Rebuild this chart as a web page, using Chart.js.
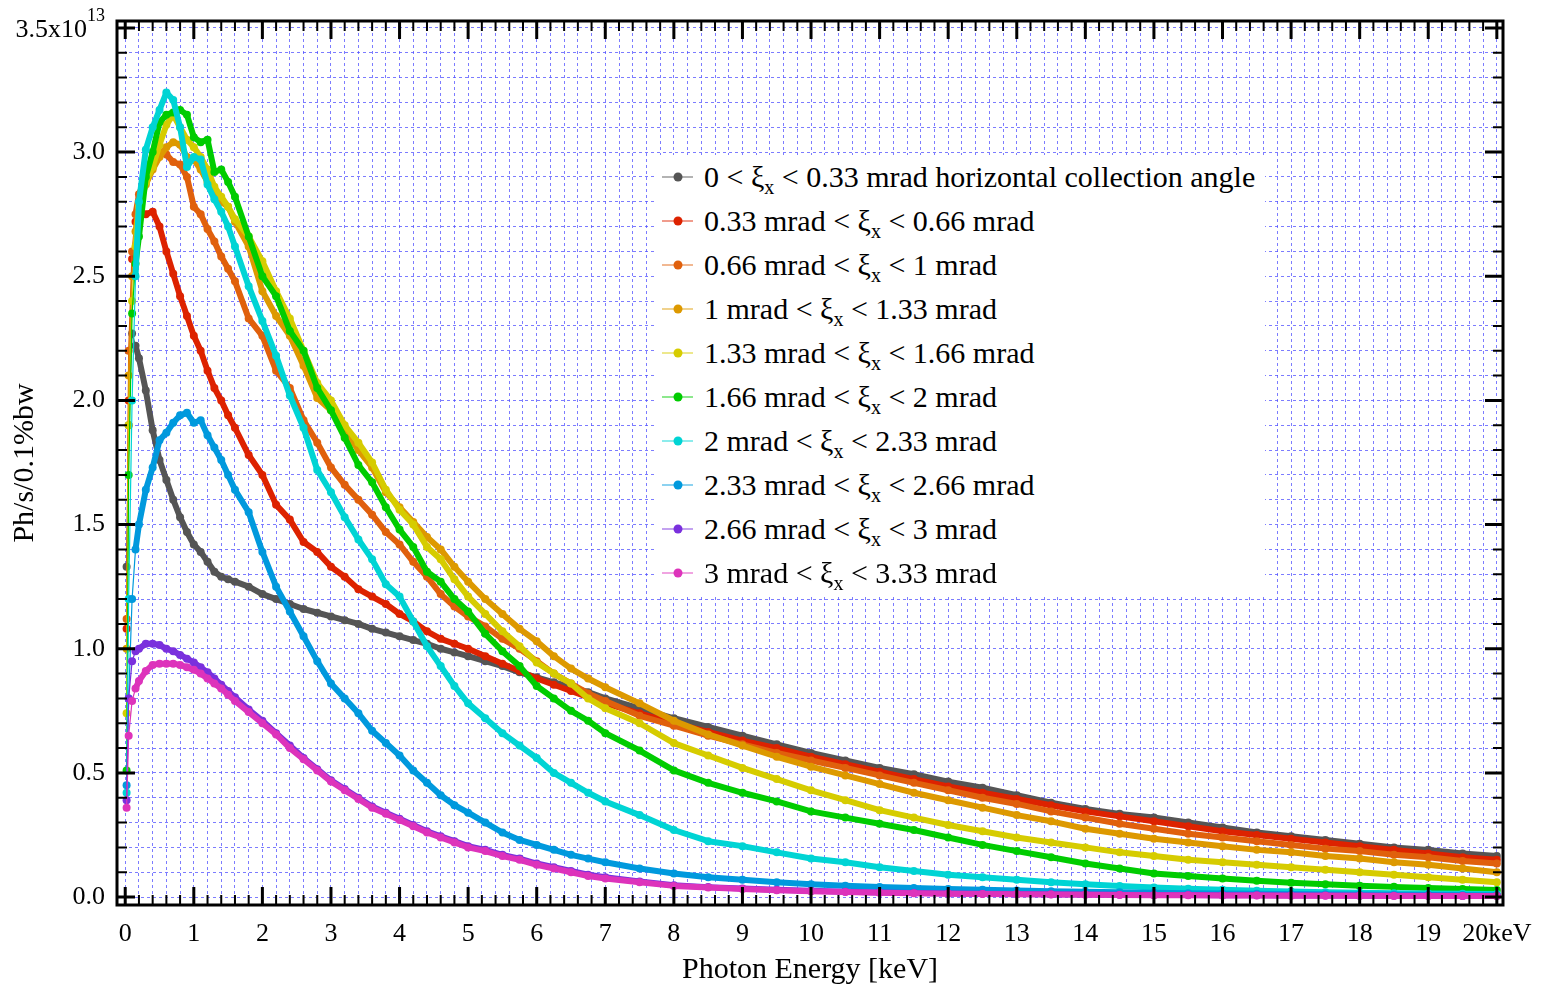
<!DOCTYPE html>
<html>
<head>
<meta charset="utf-8">
<script src="https://cdn.jsdelivr.net/npm/chart.js@4.4.1/dist/chart.umd.min.js"></script>
<style>
    html, body { margin: 0; padding: 0; background: #fff; }
    #wrap { position: relative; width: 1541px; height: 985px; }
    #leyenda { position: absolute; left: 657px; top: 155px; width: 608px; height: 439px; background: #fff;
               font-family: 'Liberation Serif', 'Times New Roman', serif; font-size: 30px; color: #000; }
    .fila { position: relative; height: 44px; line-height: 44px; white-space: nowrap; }
    .fila svg { position: absolute; left: 5px; top: 16px; }
    .fila .txt { position: absolute; left: 47px; top: 0; }
    .fila sub { font-size: 20px; vertical-align: -7px; line-height: 0; }
</style>
</head>
<body>
<div id="wrap">
    <canvas id="espectroChart" width="1541" height="985"></canvas>
    <div id="leyenda"></div>
</div>
<script>
// energia en keV
const energia = [0.02, 0.05, 0.1, 0.15, 0.2, 0.3, 0.4, 0.5, 0.6, 0.7,
    0.8, 0.9, 1.0, 1.1, 1.2, 1.3, 1.4, 1.5, 1.6, 1.8,
    2.0, 2.2, 2.4, 2.6, 2.8, 3.0, 3.2, 3.4, 3.6, 3.8,
    4.0, 4.2, 4.4, 4.6, 4.8, 5.0, 5.25, 5.5, 5.75, 6.0,
    6.25, 6.5, 6.75, 7.0, 7.5, 8.0, 8.5, 9, 9.5, 10,
    10.5, 11, 11.5, 12, 12.5, 13, 13.5, 14, 14.5, 15,
    15.5, 16, 16.5, 17, 17.5, 18, 18.5, 19, 19.5, 20];

// flujo en unidades de 1e13 ph/s/0.1%bw
const f000_033 = [1.33, 1.90, 2.27, 2.22, 2.17, 2.04, 1.88, 1.76, 1.68, 1.60,
    1.53, 1.47, 1.42, 1.39, 1.35, 1.31, 1.29, 1.28, 1.27, 1.25,
    1.22, 1.20, 1.18, 1.16, 1.145, 1.13, 1.115, 1.10, 1.08, 1.065,
    1.05, 1.035, 1.02, 1.00, 0.985, 0.97, 0.95, 0.93, 0.905, 0.885,
    0.865, 0.845, 0.825, 0.80, 0.76, 0.72, 0.685, 0.65, 0.615, 0.58,
    0.55, 0.52, 0.495, 0.465, 0.44, 0.41, 0.38, 0.355, 0.335, 0.32,
    0.30, 0.28, 0.26, 0.245, 0.23, 0.215, 0.20, 0.19, 0.175, 0.165];
const f033_066 = [1.08, 2.00, 2.57, 2.72, 2.74, 2.75, 2.76, 2.70, 2.60, 2.51,
    2.42, 2.34, 2.26, 2.20, 2.12, 2.05, 2.00, 1.94, 1.89, 1.78,
    1.70, 1.58, 1.52, 1.43, 1.39, 1.33, 1.29, 1.24, 1.21, 1.18,
    1.14, 1.11, 1.07, 1.04, 1.02, 1.00, 0.97, 0.94, 0.91, 0.88,
    0.855, 0.83, 0.805, 0.78, 0.74, 0.70, 0.665, 0.63, 0.60, 0.565,
    0.535, 0.505, 0.475, 0.445, 0.42, 0.395, 0.37, 0.345, 0.325, 0.305,
    0.285, 0.265, 0.25, 0.235, 0.22, 0.205, 0.19, 0.175, 0.16, 0.15];
const f066_100 = [1.12, 2.20, 2.60, 2.75, 2.83, 2.90, 2.94, 3.00, 2.99, 2.96,
    2.95, 2.90, 2.78, 2.75, 2.69, 2.64, 2.58, 2.53, 2.48, 2.33,
    2.26, 2.12, 2.05, 1.92, 1.83, 1.73, 1.66, 1.60, 1.54, 1.47,
    1.42, 1.35, 1.29, 1.22, 1.17, 1.13, 1.09, 1.04, 1.00, 0.95,
    0.90, 0.86, 0.82, 0.79, 0.73, 0.69, 0.65, 0.615, 0.58, 0.55,
    0.52, 0.49, 0.46, 0.43, 0.40, 0.375, 0.345, 0.32, 0.295, 0.275,
    0.255, 0.24, 0.225, 0.21, 0.195, 0.185, 0.17, 0.16, 0.145, 0.135];
const f100_133 = [1.00, 2.10, 2.50, 2.68, 2.78, 2.87, 2.93, 2.98, 3.02, 3.04,
    3.03, 2.98, 2.97, 2.93, 2.88, 2.84, 2.80, 2.78, 2.72, 2.62,
    2.44, 2.34, 2.26, 2.14, 2.01, 1.96, 1.88, 1.80, 1.73, 1.63,
    1.57, 1.51, 1.45, 1.40, 1.33, 1.27, 1.20, 1.14, 1.08, 1.03,
    0.97, 0.92, 0.88, 0.845, 0.78, 0.71, 0.655, 0.61, 0.565, 0.525,
    0.49, 0.455, 0.42, 0.39, 0.36, 0.33, 0.305, 0.275, 0.255, 0.235,
    0.22, 0.205, 0.19, 0.18, 0.165, 0.155, 0.14, 0.13, 0.115, 0.10];
const f133_166 = [0.74, 1.90, 2.40, 2.62, 2.78, 2.88, 2.94, 3.03, 3.11, 3.15,
    3.10, 3.05, 3.02, 2.98, 2.93, 2.86, 2.82, 2.78, 2.73, 2.66,
    2.56, 2.44, 2.33, 2.20, 2.07, 2.00, 1.90, 1.83, 1.75, 1.64,
    1.56, 1.50, 1.41, 1.36, 1.28, 1.21, 1.14, 1.07, 1.01, 0.945,
    0.90, 0.86, 0.80, 0.76, 0.70, 0.62, 0.57, 0.52, 0.475, 0.43,
    0.39, 0.35, 0.32, 0.29, 0.265, 0.24, 0.22, 0.20, 0.18, 0.165,
    0.15, 0.14, 0.13, 0.12, 0.11, 0.10, 0.09, 0.08, 0.07, 0.06];
const f166_200 = [0.51, 1.70, 2.35, 2.55, 2.66, 2.90, 3.00, 3.12, 3.15, 3.16,
    3.17, 3.15, 3.06, 3.04, 3.05, 2.92, 2.93, 2.88, 2.82, 2.66,
    2.50, 2.42, 2.28, 2.20, 2.05, 1.96, 1.85, 1.74, 1.67, 1.57,
    1.48, 1.41, 1.31, 1.27, 1.20, 1.15, 1.06, 0.99, 0.93, 0.85,
    0.80, 0.75, 0.71, 0.66, 0.59, 0.51, 0.46, 0.42, 0.385, 0.345,
    0.32, 0.295, 0.27, 0.24, 0.21, 0.185, 0.16, 0.135, 0.115, 0.095,
    0.085, 0.075, 0.066, 0.058, 0.052, 0.046, 0.041, 0.036, 0.032, 0.028];
const f200_233 = [0.42, 1.20, 2.00, 2.50, 2.80, 3.01, 3.10, 3.17, 3.24, 3.21,
    3.10, 2.94, 2.98, 2.97, 2.87, 2.81, 2.76, 2.70, 2.62, 2.46,
    2.32, 2.18, 2.02, 1.89, 1.72, 1.63, 1.53, 1.44, 1.36, 1.26,
    1.21, 1.11, 1.01, 0.93, 0.85, 0.78, 0.72, 0.66, 0.61, 0.56,
    0.50, 0.46, 0.42, 0.385, 0.33, 0.27, 0.225, 0.205, 0.18, 0.155,
    0.14, 0.12, 0.105, 0.09, 0.08, 0.07, 0.06, 0.052, 0.045, 0.038,
    0.033, 0.029, 0.025, 0.022, 0.019, 0.017, 0.015, 0.014, 0.013, 0.012];
const f233_266 = [0.45, 0.80, 1.20, 1.40, 1.50, 1.64, 1.73, 1.84, 1.87, 1.91,
    1.94, 1.95, 1.91, 1.92, 1.86, 1.81, 1.76, 1.70, 1.64, 1.55,
    1.39, 1.25, 1.15, 1.05, 0.95, 0.86, 0.80, 0.74, 0.67, 0.62,
    0.57, 0.51, 0.46, 0.41, 0.37, 0.34, 0.30, 0.26, 0.23, 0.21,
    0.19, 0.17, 0.155, 0.14, 0.115, 0.095, 0.08, 0.07, 0.06, 0.052,
    0.046, 0.04, 0.036, 0.032, 0.029, 0.026, 0.023, 0.021, 0.019, 0.017,
    0.015, 0.014, 0.013, 0.012, 0.011, 0.010, 0.009, 0.008, 0.008, 0.007];
const f266_300 = [0.39, 0.80, 0.95, 0.99, 1.00, 1.02, 1.02, 1.015, 1.00, 0.99,
    0.975, 0.96, 0.945, 0.925, 0.905, 0.88, 0.855, 0.83, 0.805, 0.755,
    0.71, 0.66, 0.61, 0.56, 0.515, 0.47, 0.435, 0.40, 0.365, 0.34,
    0.315, 0.29, 0.265, 0.245, 0.225, 0.205, 0.19, 0.17, 0.155, 0.135,
    0.12, 0.105, 0.09, 0.08, 0.063, 0.048, 0.04, 0.034, 0.029, 0.025,
    0.021, 0.018, 0.016, 0.014, 0.013, 0.012, 0.011, 0.010, 0.009, 0.008,
    0.008, 0.007, 0.007, 0.006, 0.006, 0.005, 0.005, 0.005, 0.004, 0.004];
const f300_333 = [0.36, 0.65, 0.79, 0.84, 0.87, 0.91, 0.935, 0.94, 0.94, 0.94,
    0.935, 0.925, 0.915, 0.90, 0.88, 0.86, 0.84, 0.815, 0.79, 0.745,
    0.70, 0.655, 0.60, 0.555, 0.51, 0.465, 0.43, 0.395, 0.36, 0.335,
    0.31, 0.285, 0.26, 0.24, 0.22, 0.20, 0.185, 0.165, 0.15, 0.13,
    0.115, 0.10, 0.085, 0.075, 0.06, 0.045, 0.038, 0.032, 0.027, 0.023,
    0.02, 0.017, 0.015, 0.013, 0.012, 0.011, 0.010, 0.009, 0.008, 0.007,
    0.007, 0.006, 0.006, 0.005, 0.005, 0.005, 0.004, 0.004, 0.004, 0.004];

const series = [f000_033, f033_066, f066_100, f100_133, f133_166,
    f166_200, f200_233, f233_266, f266_300, f300_333];
const limInf = ['0', '0.33 mrad', '0.66 mrad', '1 mrad', '1.33 mrad',
    '1.66 mrad', '2 mrad', '2.33 mrad', '2.66 mrad', '3 mrad'];
const limSup = ['0.33 mrad horizontal collection angle', '0.66 mrad', '1 mrad', '1.33 mrad', '1.66 mrad',
    '2 mrad', '2.33 mrad', '2.66 mrad', '3 mrad', '3.33 mrad'];
const colores = ['#555555', '#dd2200', '#e0600c', '#dd9900', '#d6cc00',
    '#00cc00', '#00d4d4', '#0099dd', '#7a30dd', '#dd33bb'];

const xTickLabels = ['0', '1', '2', '3', '4', '5', '6', '7', '8', '9', '10',
    '11', '12', '13', '14', '15', '16', '17', '18', '19', '20keV'];
// la ultima lleva exponente: base^exponente
const yTickLabels = ['0.0', '0.5', '1.0', '1.5', '2.0', '2.5', '3.0', '3.5x10^13'];

// posiciones de la rejilla (cada 0.2 keV y cada 0.1)
const xRejilla = Array.from({ length: 101 }, (_, i) => +(i * 0.2).toFixed(1));
const yRejilla = Array.from({ length: 36 }, (_, i) => +(i * 0.1).toFixed(1));

const esEntero = (v, paso) => Math.abs(v / paso - Math.round(v / paso)) < 1e-6;
const fuente = "'Liberation Serif', 'Times New Roman', serif";

function crearLeyenda() {
    const caja = document.getElementById('leyenda');
    series.forEach((s, i) => {
        const fila = document.createElement('div');
        fila.className = 'fila';
        fila.innerHTML =
            '<svg width="31" height="12"><line x1="0" y1="6" x2="31" y2="6" stroke="' + colores[i] +
            '" stroke-opacity="0.6" stroke-width="1.5"/><circle cx="16" cy="6" r="4.5" fill="' + colores[i] + '"/></svg>' +
            '<span class="txt">' + limInf[i] + ' &lt; \u03BE<sub>x</sub> &lt; ' + limSup[i] + '</span>';
        caja.appendChild(fila);
    });
}

const marco = {
    id: 'marco',
    afterDatasetsDraw(chart) {
        const { ctx, chartArea: a, scales: { x, y } } = chart;
        ctx.save();
        ctx.strokeStyle = '#000';
        x.ticks.forEach(t => {
            const px = x.getPixelForValue(t.value);
            const mayor = esEntero(t.value, 1);
            const largo = mayor ? 18 : 10;
            ctx.lineWidth = mayor ? 3 : 2;
            ctx.beginPath();
            ctx.moveTo(px, a.bottom); ctx.lineTo(px, a.bottom - largo);
            ctx.moveTo(px, a.top); ctx.lineTo(px, a.top + largo);
            ctx.stroke();
        });
        y.ticks.forEach(t => {
            const py = y.getPixelForValue(t.value);
            const mayor = esEntero(t.value, 0.5);
            const largo = mayor ? 18 : 10;
            ctx.lineWidth = mayor ? 3 : 2;
            ctx.beginPath();
            ctx.moveTo(a.left, py); ctx.lineTo(a.left + largo, py);
            ctx.moveTo(a.right, py); ctx.lineTo(a.right - largo, py);
            ctx.stroke();
        });
        ctx.lineWidth = 3;
        ctx.strokeRect(a.left, a.top, a.right - a.left, a.bottom - a.top);

        // etiquetas con exponente (3.5x10^13)
        ctx.fillStyle = '#000';
        ctx.textAlign = 'right';
        ctx.textBaseline = 'middle';
        yTickLabels.forEach((lab, k) => {
            if (lab.indexOf('^') < 0) return;
            const [base, exp] = lab.split('^');
            const py = y.getPixelForValue(k * 0.5);
            const xd = a.left - 12;
            ctx.font = '18px ' + fuente;
            ctx.fillText(exp, xd, py - 12);
            const w = ctx.measureText(exp).width;
            ctx.font = '26px ' + fuente;
            ctx.fillText(base, xd - w, py + 2);
        });
        ctx.restore();
    }
};

function crearGrafico() {
    Chart.defaults.font.family = fuente;
    Chart.defaults.color = '#000';
    const colorRejilla = 'rgba(80, 80, 255, 0.75)';

    const ctx = document.getElementById('espectroChart').getContext('2d');
    new Chart(ctx, {
        type: 'line',
        data: {
            datasets: series.map((valores, i) => ({
                label: limInf[i] + ' < \u03BEx < ' + limSup[i],
                data: valores.map((v, j) => ({ x: energia[j], y: v })),
                borderColor: colores[i],
                backgroundColor: colores[i],
                pointBackgroundColor: colores[i],
                pointBorderWidth: 0,
                pointRadius: 4,
                borderWidth: 6,
                borderJoinStyle: 'round',
                borderCapStyle: 'round',
                segment: {
                    borderWidth: c => c.p0DataIndex < 3 ? 1.2 : 6
                },
                order: series.length - i,
                tension: 0
            }))
        },
        options: {
            responsive: false,
            animation: false,
            layout: { padding: { top: 21, right: 38, left: 0, bottom: 0 } },
            plugins: {
                legend: { display: false },
                tooltip: { enabled: false }
            },
            scales: {
                x: {
                    type: 'linear',
                    min: -0.12,
                    max: 20.09,
                    afterBuildTicks: s => { s.ticks = xRejilla.map(v => ({ value: v })); },
                    afterFit: s => { s.height = 80; s.paddingLeft = 0; s.paddingRight = 0; },
                    grid: { color: colorRejilla, lineWidth: 1, drawTicks: false },
                    border: { display: false, dash: [3, 3] },
                    ticks: {
                        autoSkip: false,
                        maxRotation: 0,
                        padding: 14,
                        font: { size: 26 },
                        callback: v => esEntero(v, 1) ? xTickLabels[Math.round(v)] : ''
                    },
                    title: {
                        display: true,
                        text: 'Photon Energy [keV]',
                        font: { size: 30, lineHeight: 1 },
                        padding: { top: 0, bottom: 0 }
                    }
                },
                y: {
                    type: 'linear',
                    min: -0.032,
                    max: 3.528,
                    afterBuildTicks: s => { s.ticks = yRejilla.map(v => ({ value: v })); },
                    afterFit: s => { s.width = 117; s.paddingTop = 0; s.paddingBottom = 0; },
                    grid: { color: colorRejilla, lineWidth: 1, drawTicks: false },
                    border: { display: false, dash: [3, 3] },
                    ticks: {
                        autoSkip: false,
                        padding: 12,
                        font: { size: 26 },
                        callback: v => {
                            if (!esEntero(v, 0.5)) return '';
                            const lab = yTickLabels[Math.round(v * 2)];
                            return lab.indexOf('^') < 0 ? lab : '';
                        }
                    },
                    title: {
                        display: true,
                        text: 'Ph/s/0.1%bw',
                        font: { size: 30, lineHeight: 1 },
                        padding: { top: 10, bottom: 0 }
                    }
                }
            }
        },
        plugins: [marco]
    });
}

crearLeyenda();
crearGrafico();
</script>
</body>
</html>
